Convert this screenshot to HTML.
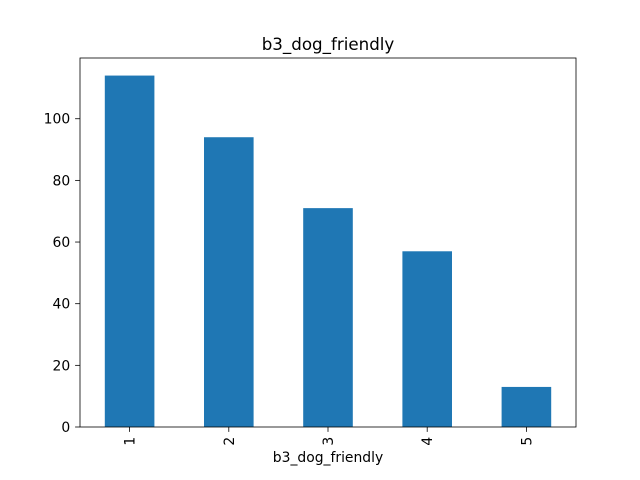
<!DOCTYPE html>
<html><head><meta charset="utf-8"><style>body{margin:0;background:#fff}svg{display:block;font-family:"DejaVu Sans","Liberation Sans",sans-serif}</style></head>
<body>
<svg id="chart" width="640" height="480"></svg>
<script>
const categories = ["1","2","3","4","5"];
const counts = [114, 94, 71, 57, 13];
const yTicks = [0, 20, 40, 60, 80, 100];
const NS = "http://www.w3.org/2000/svg";
const svg = document.getElementById("chart");
const L = 80, R = 576, T = 58, B = 427;
const yMax = Math.max(...counts) * 1.05;
const xs = i => L + (i + 0.5) * (R - L) / categories.length;
const ys = v => B - v / yMax * (B - T);
function mk(tag, attrs, parent) { const e = document.createElementNS(NS, tag); for (const k in attrs) e.setAttribute(k, attrs[k]); (parent || svg).appendChild(e); return e; }
const bw = 0.5 * (R - L) / categories.length;
counts.forEach((v, i) => {
  const r = mk("rect", {x: xs(i) - bw / 2, y: ys(v), width: bw, height: B - ys(v), fill: "#1f77b4"});
  
  
});
const frame = mk("rect", {x: L, y: T, width: R - L, height: B - T, fill: "none", stroke: "#000", "stroke-width": 0.8});


yTicks.forEach(t => {
  const y = ys(t);
  const tk = mk("line", {x1: L - 4.9, x2: L, y1: y, y2: y, stroke: "#000", "stroke-width": 0.8});
  
  
  const tx = mk("text", {x: L - 9.8, y: y + 5, "text-anchor": "end", "font-size": 13.9});
  tx.textContent = t;
  
  
});
categories.forEach((c, i) => {
  const x = xs(i);
  const tk = mk("line", {x1: x, x2: x, y1: B, y2: B + 4.9, stroke: "#000", "stroke-width": 0.8});
  
  
  const tx = mk("text", {x: x + 5, y: B + 9.8, "text-anchor": "end", "font-size": 13.9, transform: `rotate(-90 ${x + 5} ${B + 9.8})`});
  tx.textContent = c;
  
  
});
const xt = mk("text", {x: (L + R) / 2, y: 462, "text-anchor": "middle", "font-size": 13.9});
xt.textContent = "b3_dog_friendly";


const ti = mk("text", {x: (L + R) / 2, y: 50, "text-anchor": "middle", "font-size": 16.7});
ti.textContent = "b3_dog_friendly";


</script>
</body></html>
